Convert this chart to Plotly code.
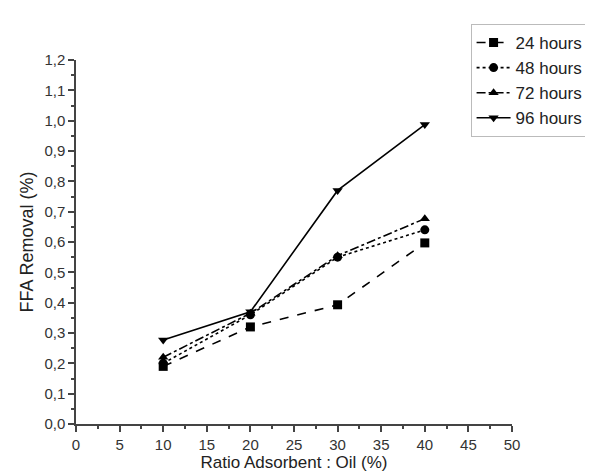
import plotly.graph_objects as go

ratio = [10, 20, 30, 40]
h24 = [0.19, 0.32, 0.393, 0.597]
h48 = [0.20, 0.36, 0.55, 0.64]
h72 = [0.22, 0.365, 0.555, 0.677]
h96 = [0.277, 0.37, 0.77, 0.987]

series = [
    ("24 hours", h24, "dash", "square"),
    ("48 hours", h48, "dot", "circle"),
    ("72 hours", h72, "dashdot", "triangle-up"),
    ("96 hours", h96, "solid", "triangle-down"),
]

yticks = [i / 10 for i in range(13)]
yticklabels = [f"{v:.1f}".replace(".", ",") for v in yticks]
xticks = list(range(0, 55, 5))

fig = go.Figure()
for name, vals, dash, sym in series:
    fig.add_trace(go.Scatter(
        x=ratio, y=vals, name=name, mode="lines+markers",
        line=dict(color="black", width=1.6, dash=dash),
        marker=dict(symbol=sym, size=9, color="black"),
    ))

fig.update_layout(
    width=593, height=472,
    margin=dict(l=68, r=89, t=52, b=56, autoexpand=False),
    plot_bgcolor="white", paper_bgcolor="white",
    font=dict(family="Liberation Sans, Arial, sans-serif", color="#333", size=15),
    showlegend=True,
    legend=dict(x=0.905, y=1.099, xanchor="left", yanchor="top",
                bordercolor="#bbb", borderwidth=1, bgcolor="white",
                font=dict(size=17, color="#222"), tracegroupgap=0,
                itemwidth=34),
)
fig.update_xaxes(
    range=[0, 50], tickvals=xticks, showgrid=False, zeroline=False,
    showline=True, linecolor="#444", linewidth=1.5,
    ticks="outside", ticklen=6, tickcolor="#444", tickwidth=1.5,
    tickfont=dict(size=15, color="#333"),
    minor=dict(ticks="outside", ticklen=3, dtick=2.5, tick0=0, tickcolor="#444"),
    title=dict(text="Ratio Adsorbent : Oil (%)", font=dict(size=17, color="#222"), standoff=1),
)
fig.update_yaxes(
    range=[0, 1.2], tickvals=yticks, ticktext=yticklabels, showgrid=False, zeroline=False,
    showline=True, linecolor="#444", linewidth=1.5,
    ticks="outside", ticklen=6, tickcolor="#444", tickwidth=1.5,
    tickfont=dict(size=15, color="#333"),
    minor=dict(ticks="outside", ticklen=3, dtick=0.05, tick0=0, tickcolor="#444"),
    title=dict(text="FFA Removal (%)", font=dict(size=18, color="#222"), standoff=6),
)

fig.write_html("out.html")
